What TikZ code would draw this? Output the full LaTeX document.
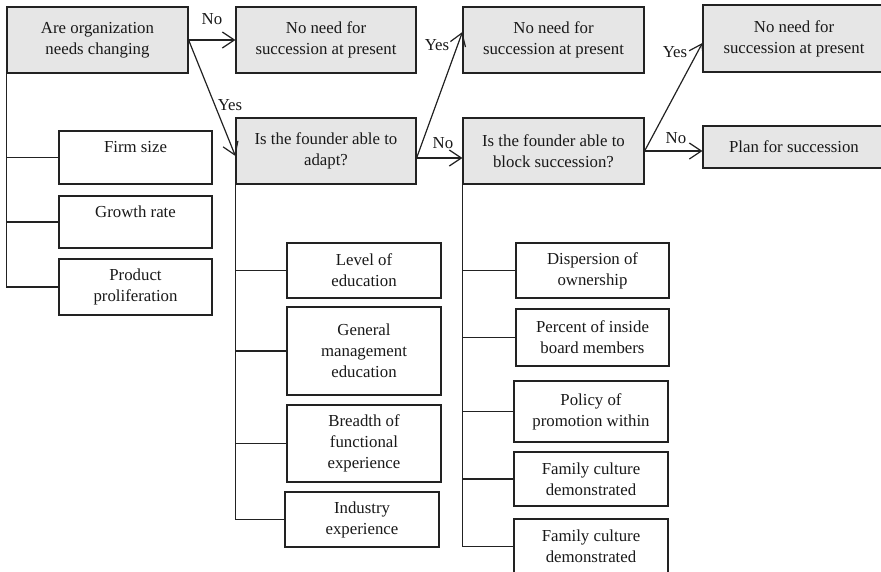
\documentclass[tikz,border=0pt]{standalone}
\usepackage{fontspec}
\setmainfont{Liberation Serif}
\usetikzlibrary{arrows.meta}
\definecolor{boxgray}{HTML}{E6E6E6}
\definecolor{linecol}{HTML}{222222}
\tikzset{
  base/.style={draw=linecol, line width=1.2pt, inner sep=0pt, align=center,
    font=\fontsize{16.8}{21}\selectfont, text=black!90},
  graybox/.style={base, fill=boxgray},
  whitebox/.style={base, fill=white},
  conn/.style={draw=linecol, line width=1.2pt},
  arr/.style={draw=linecol, line width=1.2pt, -{Straight Barb[length=12pt,width=16pt,line width=1.2pt]}},
  lbl/.style={inner sep=0pt, font=\fontsize{16.8}{21}\selectfont, text=black!90}
}
\begin{document}
\begin{tikzpicture}[x=1pt,y=-1pt]
\useasboundingbox (0,0) rectangle (881,571);
% main decision boxes
\node[graybox, minimum width=181pt, minimum height=66pt] (A) at (97.5,40) {Are organization\\needs changing};
\node[graybox, minimum width=180pt, minimum height=66pt] (B) at (326,40) {No need for\\succession at present};
\node[graybox, minimum width=180pt, minimum height=66pt] (C) at (326,151) {Is the founder able to\\adapt?};
\node[graybox, minimum width=181pt, minimum height=66pt] (E) at (553.5,40) {No need for\\succession at present};
\node[graybox, minimum width=181pt, minimum height=66pt] (D) at (553.5,151) {Is the founder able to\\block succession?};
\node[graybox, minimum width=182pt, minimum height=67pt] (F) at (794,38.5) {No need for\\succession at present};
\node[graybox, minimum width=182pt, minimum height=42pt] (P) at (794,147) {Plan for succession};
% factors of organization needs
\node[whitebox, minimum width=153pt, minimum height=53pt] (firm) at (135.5,157.5) {Firm size\\~};
\node[whitebox, minimum width=153pt, minimum height=52pt] (growth) at (135.5,222) {Growth rate\\~};
\node[whitebox, minimum width=153pt, minimum height=56pt] (prod) at (135.5,287) {Product\\proliferation};
% factors of adapting
\node[whitebox, minimum width=154pt, minimum height=55pt] (lvl) at (364,270.5) {Level of\\education};
\node[whitebox, minimum width=154pt, minimum height=88pt] (gen) at (364,351) {General\\management\\education};
\node[whitebox, minimum width=154pt, minimum height=77pt] (bre) at (364,443.5) {Breadth of\\functional\\experience};
\node[whitebox, minimum width=154pt, minimum height=55pt] (ind) at (362,519.5) {Industry\\experience};
% factors of blocking
\node[whitebox, minimum width=153pt, minimum height=55pt] (dis) at (592.5,270.5) {Dispersion of\\ownership};
\node[whitebox, minimum width=153pt, minimum height=57pt] (per) at (592.5,337.5) {Percent of inside\\board members};
\node[whitebox, minimum width=154pt, minimum height=61pt] (pol) at (591,411.5) {Policy of\\promotion within};
\node[whitebox, minimum width=154pt, minimum height=54pt] (fam1) at (591,479) {Family culture\\demonstrated};
\node[whitebox, minimum width=154pt, minimum height=55pt] (fam2) at (591,546.5) {Family culture\\demonstrated};
% tree connectors
\draw[conn] (A.south west) |- (firm.west);
\draw[conn] (A.south west) |- (growth.west);
\draw[conn] (A.south west) |- (prod.west);
\draw[conn] (C.south west) |- (lvl.west);
\draw[conn] (C.south west) |- (gen.west);
\draw[conn] (C.south west) |- (bre.west);
\draw[conn] (C.south west) |- (ind.west);
\draw[conn] (D.south west) |- (dis.west);
\draw[conn] (D.south west) |- (per.west);
\draw[conn] (D.south west) |- (pol.west);
\draw[conn] (D.south west) |- (fam1.west);
\draw[conn] (D.south west) |- (fam2.west);
% decision arrows
\draw[arr] (A.east) -- (B.west);
\draw[arr] (A.east) -- ([yshift=-5pt]C.west);
\draw[arr] ([yshift=-7pt]C.east) -- ([yshift=8pt]E.west);
\draw[arr] ([yshift=-7pt]C.east) -- ([yshift=-7pt]D.west);
\draw[arr] (D.east) -- ([yshift=-4.5pt]F.west);
\draw[arr] (D.east) -- (D.east -| P.west);
% labels
\node[lbl] (l1) at (212,19) {No};
\node[lbl] (l2) at (230,105) {Yes};
\node[lbl] (l3) at (437,45) {Yes};
\node[lbl] (l4) at (443,143) {No};
\node[lbl] (l5) at (675,52) {Yes};
\node[lbl] (l6) at (676,138) {No};
\end{tikzpicture}
\end{document}
